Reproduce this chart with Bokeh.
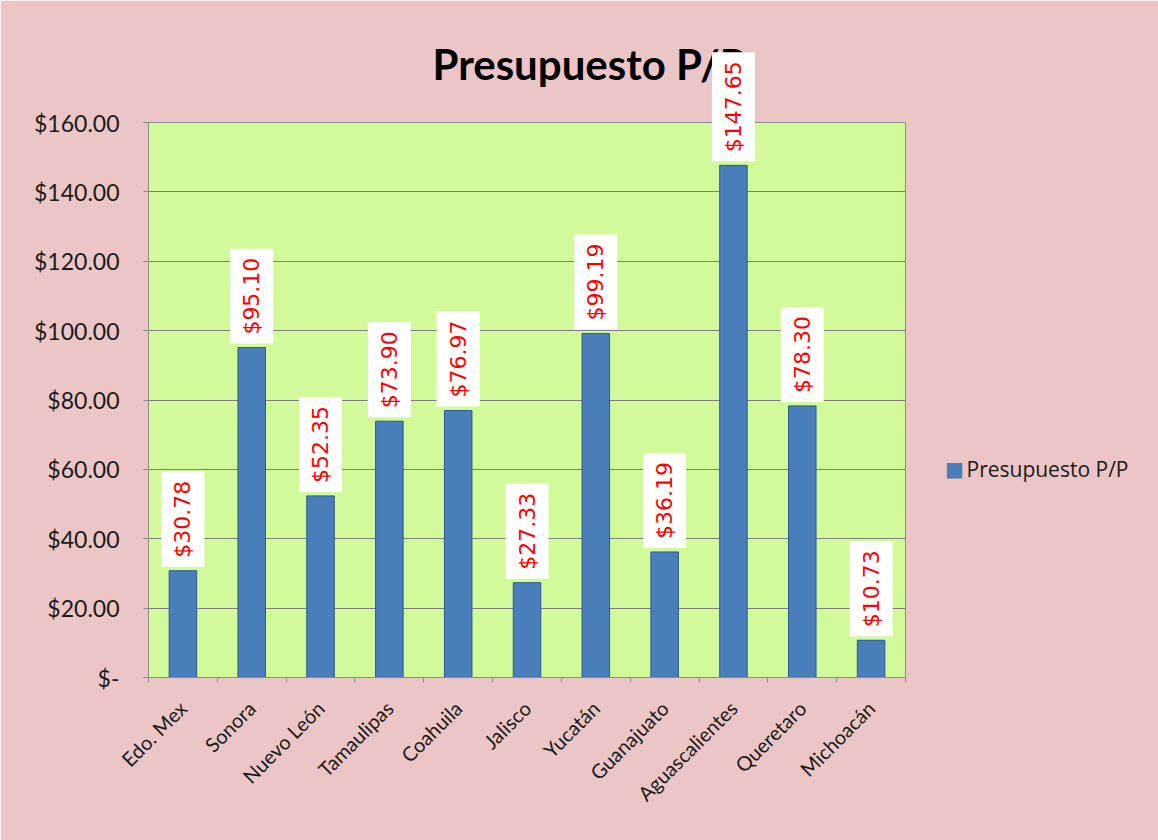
import math
from bokeh.plotting import figure
from bokeh.models import (ColumnDataSource, CustomJSTickFormatter, FixedTicker, Range1d, LinearAxis)
from bokeh.core.properties import value
from bokeh.embed import file_html
from bokeh.resources import INLINE

categories = ["Edo. Mex", "Sonora", "Nuevo León", "Tamaulipas", "Coahuila", "Jalisco",
              "Yucatán", "Guanajuato", "Aguascalientes", "Queretaro", "Michoacán"]
values = [30.78, 95.10, 52.35, 73.90, 76.97, 27.33, 99.19, 36.19, 147.65, 78.30, 10.73]
labels = ["$%.2f" % v for v in values]
series_name = "Presupuesto P/P"
y_ticks = [0, 20, 40, 60, 80, 100, 120, 140, 160]

n = len(categories)
centers = [i + 0.5 for i in range(n)]
src = ColumnDataSource(dict(x=centers, cat=categories, val=values, lab=labels))

p = figure(x_range=Range1d(0, n), y_range=Range1d(0, y_ticks[-1]), width=1158, height=840,
           output_backend="svg", toolbar_location=None, x_axis_location=None,
           min_border_left=148, min_border_right=253, min_border_top=122, min_border_bottom=163)

p.background_fill_color = "#D2FA9A"
p.border_fill_color = "#ECC6C6"
p.outline_line_color = "#8C8C8C"
p.outline_line_width = 1

p.title.text = "Presupuesto P/P"
p.title.text_font = "Lato"
p.title.text_font_style = "bold"
p.title.text_font_size = "42px"
p.title.text_color = "#000000"
p.title.align = "left"
p.title.offset = 284
p.title.standoff = 68

r = p.vbar(x="x", top="val", width=0.4, source=src,
           fill_color="#4A7EBB", line_color="#2C5A8F", line_width=1)

t = p.text(x="x", y="val", text="lab", source=src, angle=math.pi / 2,
           text_align="left", text_baseline="middle", y_offset=-4,
           text_color="#FF0000", text_font=value("DejaVu Sans"), text_font_size="22px",
           background_fill_color="#FFFFFF", padding=9)
t.level = "overlay"

p.yaxis.ticker = FixedTicker(ticks=y_ticks)
p.yaxis.formatter = CustomJSTickFormatter(code="return tick == 0 ? '$-' : '$' + tick.toFixed(2);")
p.yaxis.major_label_text_font = "Lato"
p.yaxis.major_label_text_font_size = "23px"
p.yaxis.major_label_text_color = "#1A1A1A"
p.yaxis.axis_line_color = "#8C8C8C"
p.yaxis.major_tick_line_color = "#8C8C8C"
p.yaxis.major_tick_out = 5
p.yaxis.major_tick_in = 0
p.yaxis.minor_tick_line_color = None
p.yaxis.major_label_standoff = 24

# boundary ticks between categories
bnd = LinearAxis(ticker=FixedTicker(ticks=list(range(n + 1))),
                 formatter=CustomJSTickFormatter(code="return '';"), major_label_standoff=0,
                 axis_line_color="#8C8C8C", major_tick_line_color="#8C8C8C",
                 major_tick_out=5, major_tick_in=0, minor_tick_line_color=None)
p.add_layout(bnd, "below")

# category labels at bar centres
cax = LinearAxis(ticker=FixedTicker(ticks=centers),
                 major_label_overrides={c: name for c, name in zip(centers, categories)},
                 major_label_orientation=math.pi / 4, major_label_text_font="Lato",
                 major_label_text_font_size="20px", major_label_text_color="#1A1A1A",
                 axis_line_color=None, major_tick_line_color=None, minor_tick_line_color=None,
                 major_label_standoff=16)
p.add_layout(cax, "below")

p.xgrid.grid_line_color = None
p.ygrid.grid_line_color = "#7F7F7F"
p.ygrid.grid_line_width = 1

# legend, drawn to the right of the plot area
key = p.text(x=[n], y=[0], text=["■"], x_offset=49, y_offset=-209,
             text_align="center", text_baseline="middle", text_color="#4A7EBB",
             text_font=value("DejaVu Sans"), text_font_size="20px")
key.level = "overlay"
key_lbl = p.text(x=[n], y=[0], text=[series_name], x_offset=61, y_offset=-209,
                 text_align="left", text_baseline="middle", text_color="#1A1A1A",
                 text_font=value("Open Sans"), text_font_size="21px")
key_lbl.level = "overlay"

open("out.html", "w").write(file_html(p, INLINE))
